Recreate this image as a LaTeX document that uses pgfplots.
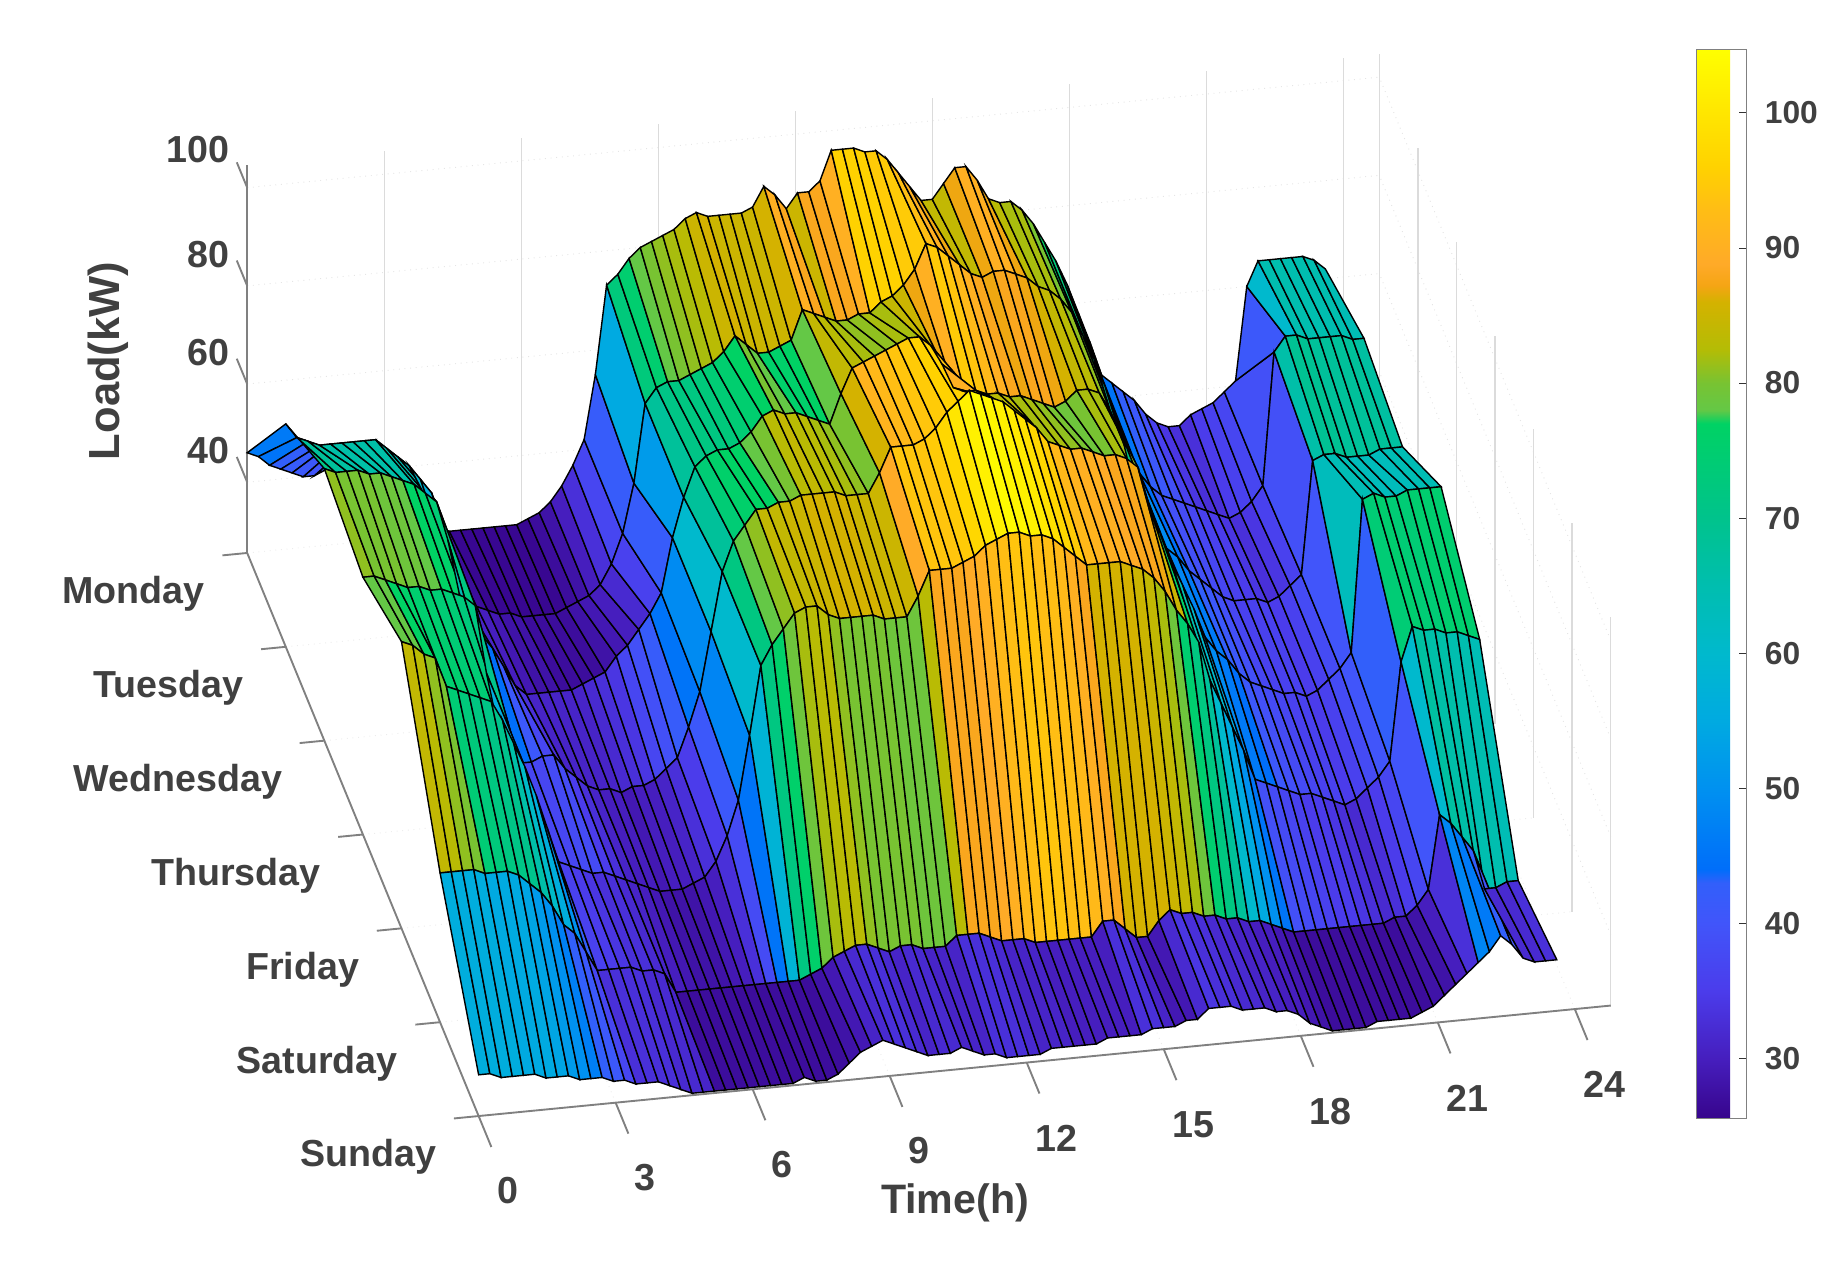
\documentclass[border=0pt]{standalone}
\usepackage{fontspec}
\setmainfont{Liberation Sans}
\usepackage{pgfplots}
\pgfplotsset{compat=1.18}
\definecolor{lab}{gray}{0.25}
\pgfplotsset{colormap={refmap}{
rgb255(256pt)=(55,5,140);
rgb255(300pt)=(70,30,190);
rgb255(350pt)=(75,60,235);
rgb255(400pt)=(65,85,250);
rgb255(430pt)=(50,95,250);
rgb255(440pt)=(0,110,250);
rgb255(500pt)=(0,145,240);
rgb255(550pt)=(0,170,225);
rgb255(600pt)=(0,185,205);
rgb255(650pt)=(0,190,175);
rgb255(700pt)=(0,195,140);
rgb255(770pt)=(0,210,100);
rgb255(780pt)=(100,200,70);
rgb255(800pt)=(120,195,50);
rgb255(825pt)=(180,188,5);
rgb255(860pt)=(212,178,0);
rgb255(872pt)=(245,165,20);
rgb255(888pt)=(255,170,40);
rgb255(930pt)=(255,190,20);
rgb255(960pt)=(255,210,0);
rgb255(1000pt)=(255,230,0);
rgb255(1047pt)=(255,255,0)}}
\begin{document}
\begin{tikzpicture}[x=0.5pt,y=0.5pt]
\path[use as bounding box] (0,0) rectangle (1568,1082);
\begin{axis}[
 at={(203.5pt,66.5pt)},anchor=origin,
 x={(4.775pt,0.466pt)},
 y={(-16.4pt,39.9pt)},
 z={(0pt,2.0875pt)},
 xmin=0,xmax=100.8,ymin=0,ymax=6,zmin=25.6,zmax=104.7,
 clip=false,
 xtick={0,12.2,24.4,36.6,48.8,61,73.2,85.4,97.6},xticklabels={0,3,6,9,12,15,18,21,24},
 ytick={0,...,6},yticklabels={Sunday,Saturday,Friday,Thursday,Wednesday,Tuesday,Monday},
 ztick={40,60,80,100},
 grid=major,
 x grid style={gray!15,dotted},
 y grid style={gray!15,dotted},
 z grid style={gray!20,dotted},
 axis line style={draw=none},
 tick pos=left,
 tick style={draw=none},
 major tick length=0pt,
 ticklabel style={font=\fontsize{16}{16}\bfseries\selectfont,text=lab},
 xticklabel style={xshift=10.5pt,yshift=-22pt},
 yticklabel style={anchor=east,xshift=-14.5pt,yshift=-17.5pt},
 zticklabel style={xshift=-4pt,yshift=6pt},
 /pgf/number format/assume math mode=true,
 colormap name=refmap,
 point meta min=25.6,point meta max=104.7,
 colorbar,
 colorbar style={at={(1.063,-0.002)},anchor=south west,width=21pt,height=454.5pt,
   ytick={30,40,...,100},
   ytick align=inside,ytick pos=right,xtick=\empty,
   tick style={draw=black!80},major tick length=3pt,
   yticklabel style={font=\fontsize{13.5}{14}\bfseries\selectfont,text=lab,xshift=4.5pt},
   /pgf/number format/assume math mode=true,
   axis line style={gray,draw=gray}},
]
\pgfplotsinvokeforeach{12.2,24.4,36.6,48.8,61,73.2,85.4,97.6,100.8}{\draw[gray!28,line width=0.6pt] (axis cs:#1,6,25.6)--(axis cs:#1,6,104.7);}
\pgfplotsinvokeforeach{0,1,2,3,4,5}{\draw[gray!28,line width=0.6pt] (axis cs:100.8,#1,25.6)--(axis cs:100.8,#1,104.7);}
\draw[gray,line width=0.8pt] (axis cs:0,6,25.6)--(axis cs:0,6,104.7);
\draw[gray,line width=0.8pt] (axis cs:0,0,25.6)--(axis cs:0,6,25.6);
\draw[gray,line width=0.8pt] (axis cs:0,0,25.6)--(axis cs:100.8,0,25.6);
\pgfplotsinvokeforeach{0,12.2,24.4,36.6,48.8,61,73.2,85.4,97.6}{\draw[gray,line width=0.8pt] (axis cs:#1,0,25.6)--(axis cs:#1,-0.33,25.6);}
\pgfplotsinvokeforeach{0,1,2,3,4,5,6}{\draw[gray,line width=0.8pt] (axis cs:0,#1,25.6)--(axis cs:-2.2,#1,25.6);}
\pgfplotsinvokeforeach{40,60,80,100}{\draw[gray,line width=0.8pt] (axis cs:0,6,#1)--(axis cs:0,6.27,#1);}
\addplot3[surf,shader=flat corner,draw=black,line width=0.6pt,z buffer=none,mesh/rows=7,mesh/cols=97] table {
0 6 46
1 6 45
2 6 43
3 6 42
4 6 41
5 6 40
6 6 40
7 6 41
8 6 40
9 6 39
10 6 37
11 6 35
12 6 33
13 6 31
14 6 30
15 6 28
16 6 27
17 6 27
18 6 26
19 6 26
20 6 26
21 6 26
22 6 26
23 6 26
24 6 26
25 6 27
26 6 28
27 6 30
28 6 33
29 6 37
30 6 42
31 6 55
32 6 73
33 6 75
34 6 78
35 6 80
36 6 81
37 6 82
38 6 83
39 6 85
40 6 86
41 6 85
42 6 85
43 6 85
44 6 85
45 6 86
46 6 90
47 6 88
48 6 85
49 6 88
50 6 88
51 6 90
52 6 96
53 6 96
54 6 96
55 6 95
56 6 95
57 6 93
58 6 90
59 6 87
60 6 84
61 6 84
62 6 87
63 6 90
64 6 90
65 6 87
66 6 83
67 6 82
68 6 82
69 6 80
70 6 77
71 6 73
72 6 69
73 6 64
74 6 58
75 6 52
76 6 45
77 6 43
78 6 41
79 6 39
80 6 36
81 6 34
82 6 33
83 6 33
84 6 35
85 6 36
86 6 37
87 6 39
88 6 41
89 6 60
90 6 65
91 6 65
92 6 65
93 6 65
94 6 65
95 6 64
96 6 62
0 5 71
1 5 68
2 5 67
3 5 66
4 5 66
5 5 66
6 5 66
7 5 66
8 5 66
9 5 64
10 5 62
11 5 60
12 5 57
13 5 54
14 5 47
15 5 38
16 5 31
17 5 30
18 5 29
19 5 28
20 5 28
21 5 27
22 5 27
23 5 27
24 5 27
25 5 28
26 5 29
27 5 30
28 5 32
29 5 36
30 5 42
31 5 52
32 5 68
33 5 71
34 5 72
35 5 72
36 5 73
37 5 74
38 5 75
39 5 77
40 5 80
41 5 78
42 5 76
43 5 76
44 5 77
45 5 78
46 5 84
47 5 83
48 5 82
49 5 81
50 5 81
51 5 82
52 5 82
53 5 84
54 5 85
55 5 87
56 5 90
57 5 95
58 5 94
59 5 92
60 5 90
61 5 88
62 5 87
63 5 88
64 5 88
65 5 87
66 5 86
67 5 84
68 5 83
69 5 81
70 5 78
71 5 73
72 5 68
73 5 62
74 5 55
75 5 49
76 5 44
77 5 41
78 5 39
79 5 38
80 5 37
81 5 36
82 5 35
83 5 34
84 5 33
85 5 34
86 5 36
87 5 39
88 5 66
89 5 69
90 5 69
91 5 68
92 5 68
93 5 68
94 5 68
95 5 67
96 5 67
0 4 81
1 4 80
2 4 80
3 4 80
4 4 79
5 4 79
6 4 78
7 4 77
8 4 76
9 4 74
10 4 72
11 4 64
12 4 53
13 4 47
14 4 44
15 4 41
16 4 37
17 4 33
18 4 31
19 4 31
20 4 31
21 4 31
22 4 31
23 4 32
24 4 33
25 4 34
26 4 37
27 4 39
28 4 42
29 4 45
30 4 49
31 4 60
32 4 68
33 4 74
34 4 76
35 4 77
36 4 77
37 4 78
38 4 80
39 4 83
40 4 84
41 4 83
42 4 83
43 4 82
44 4 81
45 4 80
46 4 86
47 4 91
48 4 92
49 4 93
50 4 94
51 4 95
52 4 96
53 4 96
54 4 94
55 4 90
56 4 85
57 4 84
58 4 84
59 4 83
60 4 83
61 4 82
62 4 82
63 4 81
64 4 80
65 4 79
66 4 80
67 4 82
68 4 82
69 4 81
70 4 77
71 4 72
72 4 62
73 4 56
74 4 52
75 4 48
76 4 46
77 4 43
78 4 41
79 4 39
80 4 37
81 4 36
82 4 36
83 4 36
84 4 35
85 4 36
86 4 38
87 4 40
88 4 63
89 4 64
90 4 64
91 4 63
92 4 63
93 4 63
94 4 64
95 4 64
96 4 64
0 3 78
1 3 78
2 3 77
3 3 76
4 3 75
5 3 75
6 3 74
7 3 74
8 3 73
9 3 72
10 3 70
11 3 56
12 3 45
13 3 42
14 3 37
15 3 37
16 3 38
17 3 38
18 3 35
19 3 33
20 3 31
21 3 30
22 3 30
23 3 29
24 3 30
25 3 30
26 3 31
27 3 33
28 3 35
29 3 41
30 3 48
31 3 60
32 3 72
33 3 78
34 3 81
35 3 84
36 3 84
37 3 85
38 3 85
39 3 86
40 3 86
41 3 86
42 3 86
43 3 85
44 3 85
45 3 85
46 3 89
47 3 94
48 3 94
49 3 94
50 3 95
51 3 97
52 3 100
53 3 102
54 3 104
55 3 103
56 3 102
57 3 101
58 3 99
59 3 97
60 3 95
61 3 92
62 3 91
63 3 90
64 3 90
65 3 89
66 3 88
67 3 88
68 3 87
69 3 85
70 3 77
71 3 71
72 3 65
73 3 60
74 3 55
75 3 49
76 3 46
77 3 44
78 3 41
79 3 39
80 3 38
81 3 37
82 3 36
83 3 36
84 3 35
85 3 36
86 3 38
87 3 40
88 3 43
89 3 74
90 3 75
91 3 74
92 3 74
93 3 75
94 3 75
95 3 75
96 3 75
0 2 84
1 2 83
2 2 81
3 2 80
4 2 74
5 2 73
6 2 72
7 2 71
8 2 70
9 2 66
10 2 61
11 2 56
12 2 50
13 2 43
14 2 36
15 2 35
16 2 34
17 2 33
18 2 33
19 2 32
20 2 31
21 2 30
22 2 29
23 2 28
24 2 28
25 2 28
26 2 29
27 2 30
28 2 33
29 2 38
30 2 45
31 2 58
32 2 72
33 2 76
34 2 79
35 2 82
36 2 83
37 2 83
38 2 81
39 2 80
40 2 80
41 2 80
42 2 80
43 2 79
44 2 79
45 2 79
46 2 83
47 2 88
48 2 88
49 2 88
50 2 89
51 2 90
52 2 92
53 2 93
54 2 94
55 2 94
56 2 93
57 2 93
58 2 92
59 2 90
60 2 88
61 2 86
62 2 86
63 2 86
64 2 86
65 2 85
66 2 84
67 2 82
68 2 79
69 2 75
70 2 72
71 2 68
72 2 60
73 2 55
74 2 50
75 2 45
76 2 39
77 2 38
78 2 37
79 2 36
80 2 35
81 2 35
82 2 34
83 2 33
84 2 32
85 2 33
86 2 35
87 2 37
88 2 40
89 2 60
90 2 67
91 2 66
92 2 66
93 2 65
94 2 65
95 2 64
96 2 63
0 1 56
1 1 56
2 1 56
3 1 56
4 1 55
5 1 55
6 1 55
7 1 54
8 1 52
9 1 50
10 1 47
11 1 43
12 1 41
13 1 37
14 1 33
15 1 33
16 1 33
17 1 33
18 1 32
19 1 32
20 1 31
21 1 27
22 1 27
23 1 27
24 1 27
25 1 27
26 1 27
27 1 27
28 1 27
29 1 27
30 1 27
31 1 27
32 1 27
33 1 28
34 1 29
35 1 31
36 1 32
37 1 33
38 1 33
39 1 32
40 1 31
41 1 32
42 1 32
43 1 31
44 1 31
45 1 31
46 1 33
47 1 33
48 1 33
49 1 32
50 1 31
51 1 31
52 1 31
53 1 30
54 1 30
55 1 30
56 1 30
57 1 30
58 1 30
59 1 33
60 1 33
61 1 31
62 1 29
63 1 29
64 1 32
65 1 34
66 1 33
67 1 33
68 1 32
69 1 32
70 1 31
71 1 31
72 1 30
73 1 30
74 1 29
75 1 28
76 1 27
77 1 27
78 1 27
79 1 27
80 1 27
81 1 27
82 1 27
83 1 27
84 1 27
85 1 28
86 1 28
87 1 30
88 1 33
89 1 48
90 1 46
91 1 43
92 1 40
93 1 32
94 1 32
95 1 33
96 1 33
0 0 34
1 0 34
2 0 33
3 0 33
4 0 33
5 0 33
6 0 32
7 0 32
8 0 32
9 0 31
10 0 31
11 0 31
12 0 30
13 0 30
14 0 29
15 0 29
16 0 29
17 0 28
18 0 27
19 0 26
20 0 26
21 0 26
22 0 26
23 0 26
24 0 26
25 0 26
26 0 26
27 0 26
28 0 26
29 0 27
30 0 26
31 0 26
32 0 27
33 0 29
34 0 31
35 0 32
36 0 33
37 0 32
38 0 31
39 0 30
40 0 29
41 0 29
42 0 29
43 0 30
44 0 29
45 0 28
46 0 28
47 0 27
48 0 27
49 0 27
50 0 27
51 0 28
52 0 28
53 0 28
54 0 28
55 0 28
56 0 29
57 0 29
58 0 29
59 0 29
60 0 30
61 0 30
62 0 30
63 0 31
64 0 31
65 0 33
66 0 33
67 0 33
68 0 32
69 0 32
70 0 32
71 0 31
72 0 31
73 0 30
74 0 28
75 0 27
76 0 26
77 0 26
78 0 26
79 0 26
80 0 27
81 0 27
82 0 27
83 0 27
84 0 28
85 0 29
86 0 31
87 0 33
88 0 35
89 0 37
90 0 39
91 0 42
92 0 40
93 0 37
94 0 36
95 0 36
96 0 36
};
\end{axis}
\node[font=\fontsize{17.5}{18}\bfseries\selectfont,text=lab] at (812,59) {Time(h)};
\node[font=\fontsize{18.5}{19}\bfseries\selectfont,text=lab,rotate=90] at (92,775) {Load(kW)};
\end{tikzpicture}
\end{document}
